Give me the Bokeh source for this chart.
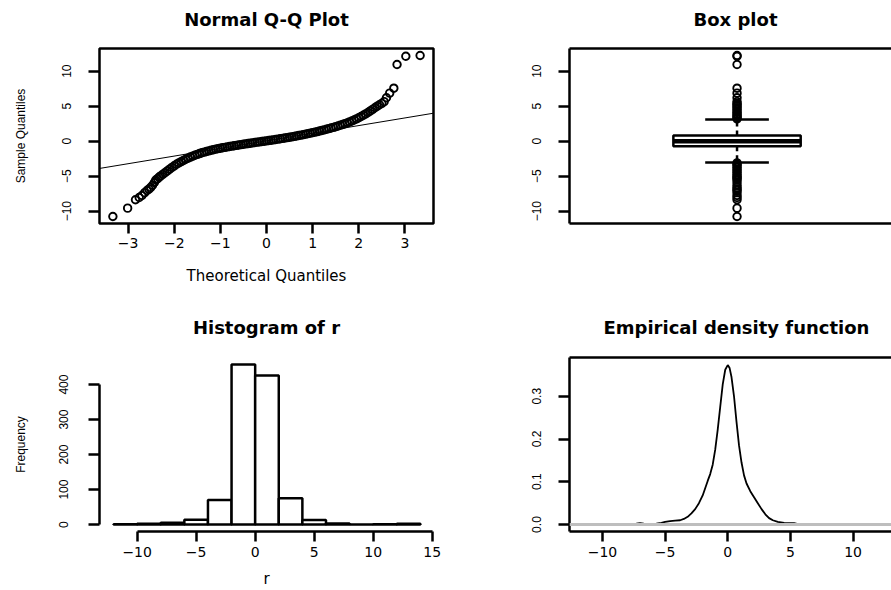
from bokeh.plotting import figure
from bokeh.layouts import row, column
from bokeh.models import Range1d, LinearAxis, FixedTicker, Span, Slope, Title, PrintfTickFormatter
from bokeh.embed import file_html
from bokeh.resources import INLINE

# ---------------- data ----------------
qq_theoretical = [
    -3.33, -3.01, -2.84, -2.76, -2.70, -2.64, -2.59, -2.55, -2.51, -2.47, -2.43, -2.40, -2.36, -2.33,
    -2.30, -2.25, -2.20, -2.15, -2.10, -2.05, -2.00, -1.95, -1.90, -1.85, -1.80, -1.75, -1.70, -1.65,
    -1.60, -1.55, -1.50, -1.45, -1.40, -1.35, -1.30, -1.25, -1.20, -1.15, -1.10, -1.05, -1.00, -0.95,
    -0.90, -0.85, -0.80, -0.75, -0.70, -0.65, -0.60, -0.55, -0.50, -0.45, -0.40, -0.35, -0.30, -0.25,
    -0.20, -0.15, -0.10, -0.05, 0.00, 0.05, 0.10, 0.15, 0.20, 0.25, 0.30, 0.35, 0.40, 0.45, 0.50,
    0.55, 0.60, 0.65, 0.70, 0.75, 0.80, 0.85, 0.90, 0.95, 1.00, 1.05, 1.10, 1.15, 1.20, 1.25, 1.30,
    1.35, 1.40, 1.45, 1.50, 1.55, 1.60, 1.65, 1.70, 1.75, 1.80, 1.85, 1.90, 1.95, 2.00, 2.05, 2.10,
    2.15, 2.20, 2.25, 2.30, 2.35, 2.40, 2.45, 2.50,
    2.55, 2.60, 2.67, 2.76, 2.83, 3.02, 3.33,
]
qq_sample = [
    -10.76, -9.57, -8.37, -8.05, -7.76, -7.35, -7.04, -6.85, -6.60, -6.30, -5.90, -5.55, -5.35, -5.15,
    -5.00, -4.75, -4.50, -4.25, -4.00, -3.75, -3.52, -3.30, -3.10, -2.92, -2.75, -2.58, -2.42, -2.27,
    -2.13, -2.00, -1.88, -1.77, -1.66, -1.56, -1.47, -1.38, -1.30, -1.22, -1.14, -1.07, -1.00, -0.94,
    -0.88, -0.82, -0.76, -0.70, -0.65, -0.60, -0.54, -0.49, -0.44, -0.39, -0.34, -0.29, -0.24, -0.19,
    -0.14, -0.10, -0.05, 0.00, 0.05, 0.10, 0.14, 0.19, 0.24, 0.29, 0.34, 0.40, 0.45, 0.51, 0.56,
    0.62, 0.68, 0.74, 0.81, 0.87, 0.94, 1.01, 1.08, 1.15, 1.22, 1.30, 1.37, 1.45, 1.53, 1.61, 1.70,
    1.79, 1.88, 1.97, 2.07, 2.17, 2.28, 2.39, 2.50, 2.62, 2.75, 2.89, 3.03, 3.19, 3.35, 3.52, 3.70,
    3.90, 4.10, 4.32, 4.55, 4.78, 5.00, 5.20, 5.40,
    5.65, 6.20, 6.86, 7.57, 10.96, 12.14, 12.24,
]
assert len(qq_theoretical) == len(qq_sample)
qq_line_slope = 1.09
qq_line_intercept = 0.05

box_q1 = -0.71
box_median = 0.0
box_q3 = 0.81
box_whisker_low = -3.04
box_whisker_high = 3.10

hist_breaks = [-12, -10, -8, -6, -4, -2, 0, 2, 4, 6, 8, 10, 12, 14]
hist_counts = [1, 2, 5, 14, 70, 457, 426, 75, 13, 3, 0, 1, 2]

dens_x = [-11.8, -8.0, -7.3, -7.0, -6.7, -6.2, -5.7, -5.3, -5.0, -4.6, -4.2, -3.8, -3.5, -3.2,
          -2.9, -2.6, -2.3, -2.0, -1.8, -1.6, -1.4, -1.2, -1.0, -0.8, -0.6, -0.4, -0.2, 0.0,
          0.15, 0.3, 0.5, 0.7, 0.9, 1.1, 1.3, 1.5, 1.8, 2.1, 2.4, 2.7, 3.0, 3.3, 3.6, 4.0,
          4.5, 5.0, 5.3, 5.6, 6.5, 7.5, 11.0, 12.2, 13.1]
dens_y = [0.0, 0.0005, 0.002, 0.003, 0.002, 0.001, 0.002, 0.004, 0.006, 0.008, 0.009, 0.010, 0.013, 0.018,
          0.026, 0.036, 0.050, 0.068, 0.085, 0.102, 0.118, 0.140, 0.175, 0.222, 0.275, 0.328, 0.362, 0.373,
          0.366, 0.345, 0.300, 0.240, 0.185, 0.145, 0.115, 0.096, 0.078, 0.064, 0.050, 0.036, 0.024, 0.015, 0.010, 0.006,
          0.004, 0.003, 0.003, 0.001, 0.0005, 0.001, 0.0008, 0.0008, 0.0]

qq_xticks = [-3, -2, -1, 0, 1, 2, 3]
qq_yticks = [-10, -5, 0, 5, 10]
box_yticks = [-10, -5, 0, 5, 10]
hist_xticks = [-10, -5, 0, 5, 10, 15]
hist_yticks = [0, 100, 200, 300, 400]
dens_xticks = [-10, -5, 0, 5, 10]
dens_yticks = [0.0, 0.1, 0.2, 0.3]

titles = ["Normal Q-Q Plot", "Box plot", "Histogram of r", "Empirical density function"]

# ---------------- styling / layout ----------------
INK = "#000000"
LW = 2.5
FONT_H = "DejaVu Sans"
FONT_V = "Liberation Sans"

LEFT_W, RIGHT_W = 450, 441
TOP_H, BOT_H = 295, 295


def minus_labels(ticks):
    out = {}
    for t in ticks:
        s = "{:g}".format(abs(t))
        out[t] = ("\u2212" + s) if t < 0 else s
    return out


def base_fig(w, h, left, right, top, bottom, xr, yr):
    p = figure(width=w, height=h, x_range=Range1d(*xr), y_range=Range1d(*yr),
               toolbar_location=None, output_backend="svg",
               x_axis_type=None, y_axis_type=None,
               min_border_left=left, min_border_right=right,
               min_border_top=top, min_border_bottom=bottom)
    p.outline_line_color = None
    p.background_fill_color = "white"
    p.border_fill_color = "white"
    return p


def make_axis(ticks, horizontal, tick_len=10, labels=None, line=True, bounds=None,
              label_standoff=5, title=None, title_standoff=5, formatter=None):
    ax = LinearAxis(ticker=FixedTicker(ticks=ticks, minor_ticks=[]))
    if formatter is not None:
        ax.formatter = formatter
    ax.major_tick_in = 0
    ax.major_tick_out = tick_len
    ax.major_tick_line_width = LW
    ax.major_tick_line_color = INK
    ax.minor_tick_line_color = None
    ax.axis_line_width = LW
    ax.axis_line_color = INK if line else None
    if bounds is not None:
        ax.bounds = bounds
    if labels:
        ax.major_label_overrides = labels
    ax.major_label_standoff = label_standoff
    ax.major_label_text_color = INK
    if horizontal:
        ax.major_label_text_font = FONT_H
        ax.major_label_text_font_size = "14px"
    else:
        ax.major_label_text_font = FONT_V
        ax.major_label_text_font_size = "12px"
        ax.major_label_orientation = "vertical"
    if title:
        ax.axis_label = title
        ax.axis_label_standoff = title_standoff
        ax.axis_label_text_color = INK
        ax.axis_label_text_font_style = "normal"
        if horizontal:
            ax.axis_label_text_font = FONT_H
            ax.axis_label_text_font_size = "15px"
        else:
            ax.axis_label_text_font = FONT_V
            ax.axis_label_text_font_size = "12px"
    return ax


def border_axis(line=True, gap=0):
    # plain frame edge (no ticks, no labels); 'gap' reserves room between frame and title
    ax = LinearAxis(ticker=FixedTicker(ticks=[], minor_ticks=[]))
    ax.axis_line_width = LW
    ax.axis_line_color = INK if line else None
    ax.major_tick_out = 0
    ax.major_tick_in = 0
    ax.major_label_standoff = 0
    ax.major_tick_line_color = None
    ax.minor_tick_line_color = None
    ax.major_label_text_font_size = "0px"
    if gap:
        ax.axis_label = " "
        ax.axis_label_text_font_size = "1px"
        ax.axis_label_standoff = gap
    return ax


def add_title(p, text, gap, line, align="center", offset=0):
    p.add_layout(border_axis(line=line, gap=gap), "above")
    p.add_layout(Title(text=text, align=align, offset=offset, vertical_align="top", standoff=0,
                       text_font=FONT_H, text_font_size="18px", text_font_style="bold",
                       text_color=INK), "above")


# ---- 1. Normal Q-Q plot ----
qq_xr = (-3.62, 3.62)
qq_yr = (-11.76, 13.24)
p1 = base_fig(LEFT_W, TOP_H, 99, 17, 48, 72, qq_xr, qq_yr)
p1.outline_line_color = INK
p1.outline_line_width = LW
p1.add_layout(make_axis(qq_xticks, True, 10, minus_labels(qq_xticks), line=False,
                        label_standoff=4, title="Theoretical Quantiles", title_standoff=16), "below")
p1.add_layout(make_axis(qq_yticks, False, 11, minus_labels(qq_yticks), line=False,
                        label_standoff=17, title="Sample Quantiles", title_standoff=32), "left")
p1.scatter(qq_theoretical, qq_sample, marker="circle", size=7.5, fill_color=None,
           line_color=INK, line_width=1.9)
p1.add_layout(Slope(gradient=qq_line_slope, y_intercept=qq_line_intercept, line_color=INK, line_width=1))
add_title(p1, titles[0], 13, line=False)

# ---- 2. Box plot ----
box_pos = 1.0
box_half = 0.19
cap_half = 0.095
bx_xr = (0.5, 1.461)
p2 = base_fig(RIGHT_W, TOP_H, 119, 0, 48, 72, bx_xr, qq_yr)
p2.add_layout(make_axis(box_yticks, False, 11, minus_labels(box_yticks), line=True,
                        label_standoff=17), "left")
p2.add_layout(border_axis(), "below")
add_title(p2, titles[1], 13, line=True, align="left", offset=124)
p2.segment(x0=[box_pos, box_pos], x1=[box_pos, box_pos], y0=[box_q3, box_q1],
           y1=[box_whisker_high, box_whisker_low], line_color=INK, line_width=LW, line_dash="5 4")
p2.segment(x0=[box_pos - cap_half] * 2, x1=[box_pos + cap_half] * 2,
           y0=[box_whisker_high, box_whisker_low], y1=[box_whisker_high, box_whisker_low],
           line_color=INK, line_width=LW)
p2.quad(left=[box_pos - box_half], right=[box_pos + box_half], bottom=[box_q1], top=[box_q3],
        fill_color="white", line_color=INK, line_width=LW)
p2.segment(x0=[box_pos - box_half], x1=[box_pos + box_half], y0=[box_median], y1=[box_median],
           line_color=INK, line_width=4.5)
outliers = [v for v in qq_sample if v > box_whisker_high or v < box_whisker_low]
p2.scatter([box_pos] * len(outliers), outliers, marker="circle", size=7.5, fill_color=None,
           line_color=INK, line_width=1.9)

# ---- 3. Histogram ----
h_xr = (-13.19, 15.11)
h_yr = (-19.9, 477.3)
p3 = base_fig(LEFT_W, BOT_H, 99, 17, 62, 58, h_xr, h_yr)
p3.add_layout(make_axis(hist_xticks, True, 10, minus_labels(hist_xticks), line=True,
                        bounds=(hist_xticks[0], hist_xticks[-1]), label_standoff=5,
                        title="r", title_standoff=10), "below")
p3.add_layout(make_axis(hist_yticks, False, 11, None, line=True,
                        bounds=(hist_yticks[0], hist_yticks[-1]), label_standoff=20,
                        title="Frequency", title_standoff=29), "left")
p3.quad(left=hist_breaks[:-1], right=hist_breaks[1:], bottom=[0] * len(hist_counts), top=hist_counts,
        fill_color="white", line_color=INK, line_width=LW)
add_title(p3, titles[2], 14, line=False)

# ---- 4. Density ----
d_xr = (-12.63, 13.07)
d_yr = (-0.0163, 0.3907)
p4 = base_fig(RIGHT_W, BOT_H, 119, 0, 62, 58, d_xr, d_yr)
p4.add_layout(make_axis(dens_xticks, True, 10, minus_labels(dens_xticks), line=True,
                        label_standoff=5), "below")
p4.add_layout(make_axis(dens_yticks, False, 11, None, line=True, label_standoff=17,
                        formatter=PrintfTickFormatter(format="%.1f")), "left")
add_title(p4, titles[3], 14, line=True, align="left", offset=34)
p4.line(dens_x, dens_y, line_color=INK, line_width=1.8)
p4.add_layout(Span(location=0, dimension="width", line_color="#bebebe", line_width=3))

layout = column(row(p1, p2), row(p3, p4))
open("out.html", "w").write(file_html(layout, INLINE))
